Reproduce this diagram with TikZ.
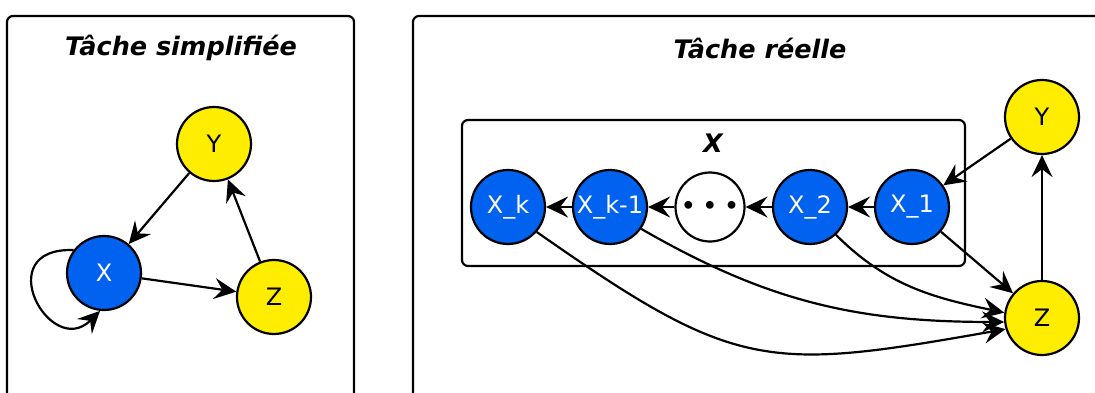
\documentclass[tikz,border=0pt]{standalone}
\usepackage{fontspec}
\setmainfont{DejaVu Sans}
\usetikzlibrary{arrows.meta}
\definecolor{nblue}{RGB}{0,98,238}
\definecolor{nyellow}{RGB}{255,237,0}
\begin{document}
\begin{tikzpicture}[x=1pt,y=1pt,
 panel/.style={draw,line width=2.2pt,rounded corners=6pt},
 var/.style={circle,draw,line width=2.2pt,minimum size=74pt,inner sep=0pt,font=\fontsize{24}{26}\selectfont},
 obs/.style={var,fill=nyellow,text=black},
 hid/.style={var,fill=nblue,text=white},
 dotsnode/.style={var,minimum size=69pt,fill=white,font=\fontsize{22}{24}\selectfont\bfseries},
 arr/.style={line width=2.2pt,-{Stealth[length=22pt,width=21pt,inset=8pt]}},
 title/.style={font=\fontsize{25.5}{28}\selectfont\bfseries\itshape}]
\useasboundingbox (0,-393) rectangle (1095,0);
\clip (0,-393) rectangle (1095,0);
\draw[panel] (7,-16) rectangle (354,-420);
\draw[panel] (413,-16) rectangle (1120,-420);
\node[title] (t1) at (181,-48) {Tâche simplifiée};
\node[title] (t2) at (760,-48) {Tâche réelle};
% left panel
\node[obs] (Y) at (214,-144) {Y};
\node[hid] (X) at (104,-273) {X};
\node[obs] (Z) at (274,-297) {Z};
\draw[arr] (Y) -- (X);
\draw[arr] (X) -- (Z);
\draw[arr] (Z) -- (Y);
\draw[arr] (X.143) .. controls +(178:85) and +(225:70) .. (X.-96);
% right panel
\draw[panel] (462,-120) rectangle (965,-266);
\node[title] (xl) at (713,-143) {X};
\node[obs] (Y2) at (1042,-117) {Y};
\node[obs] (Z2) at (1042,-318) {Z};
\node[hid] (X1) at (912,-207) {X\_1};
\node[hid] (X2) at (810,-207) {X\_2};
\node[dotsnode] (D) at (710,-207) {• • •};
\node[hid] (Xk1) at (610,-207) {X\_k-1};
\node[hid] (Xk) at (508,-207) {X\_k};
\draw[arr] (Y2) -- (X1);
\draw[arr] (Z2) -- (Y2);
\draw[arr] (X1) -- (X2);
\draw[arr] (X2) -- (D);
\draw[arr] (D) -- (Xk1);
\draw[arr] (Xk1) -- (Xk);
\draw[arr] (X1) -- (Z2);
\draw[arr] (X2.-47) to[out=-45,in=168] (Z2.172);
\draw[arr] (Xk1.-35) to[out=-30,in=180] (Z2.186);
\draw[arr] (Xk.-41) to[out=-35,in=190,looseness=1.3] (Z2.197);
\end{tikzpicture}
\end{document}
